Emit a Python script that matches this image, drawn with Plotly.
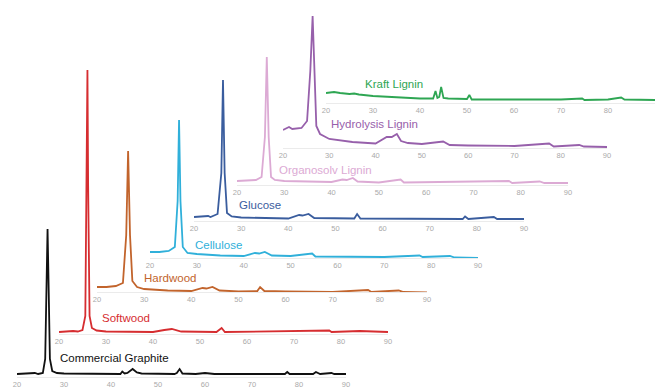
import plotly.graph_objects as go

W, H = 659, 389

# ---------------- data (2-theta in degrees, intensity in a.u.) ----------------
names = ["Commercial Graphite", "Softwood", "Hardwood", "Cellulose", "Glucose",
         "Organosolv Lignin", "Hydrolysis Lignin", "Kraft Lignin"]

tick_vals = [20, 30, 40, 50, 60, 70, 80, 90]

graphite_2t = [20, 23.8, 24.5, 25.5, 26.0, 26.3, 26.5, 26.7, 27.0, 27.5, 28.5, 30, 40, 42.0, 42.4, 42.9, 43.5,
               44.6, 45.5, 46.5, 53.5, 54.0, 54.6, 55.2, 58, 60, 62, 77, 77.5, 78, 83, 83.6, 84.5, 86.9, 87.5, 90]
graphite_i = [5, 6, 5, 6, 20, 100, 150, 100, 20, 8, 6, 5.5, 5, 5, 7.5, 5.5, 6,
              10, 6.5, 5.5, 5, 6, 10, 5.5, 5, 6, 5, 5, 7, 5, 5, 7, 5, 6, 5, 5]

softwood_2t = [20, 23, 24, 25, 25.6, 25.9, 26.05, 26.2, 26.5, 27, 28, 30, 40, 42.4, 44, 46, 53.5, 54.6, 55.3,
               77.5, 78, 84, 90]
softwood_i = [4, 5, 4.5, 6, 20, 150, 266, 150, 20, 8, 5.5, 4.5, 4, 6, 7, 4.5, 4, 8, 4,
              5.5, 4, 5, 4]

hardwood_2t = [20, 22, 24, 25.5, 26.2, 26.6, 27.0, 27.5, 28.5, 30, 35, 40, 42.4, 43.2, 44.5, 46, 50, 54.0,
               54.6, 55.5, 60, 70, 77.5, 78.2, 84, 85, 90]
hardwood_i = [8, 8, 9, 12, 60, 144, 60, 14, 8, 6, 4.5, 4, 7, 6.5, 8, 4.5, 3.5, 4,
              8, 4, 3.5, 3, 5, 3, 4.5, 3, 2.5]

cellulose_2t = [20, 22, 24, 25.3, 25.9, 26.2, 26.5, 27, 28, 30, 35, 40, 42.4, 43.3, 44.5, 46, 50, 54.6, 55.3,
                60, 70, 77.5, 78.2, 84, 85, 90]
cellulose_i = [9, 9, 10, 14, 60, 141, 60, 14, 8, 7, 5.5, 5, 8, 7.5, 9, 5.5, 5, 7.5, 4.5,
               4.5, 4, 5.5, 4, 5, 3.5, 3]

glucose_2t = [20, 23, 23.5, 25, 25.8, 26.15, 26.5, 27, 28, 30, 40, 42.3, 43, 44.3, 45.5, 54, 54.6, 55.3,
              77, 77.5, 78.2, 83.6, 84.3, 90]
glucose_i = [6, 7, 6, 9, 50, 143, 50, 10, 6.5, 5.5, 4.5, 8, 7.5, 9, 5, 4.5, 9, 4.5,
             4, 6.5, 4, 6, 4, 4]

organosolv_2t = [20, 22, 24, 25.2, 25.9, 26.3, 26.7, 27.2, 28, 30, 40, 42.3, 43.2, 44.5, 45.5, 50, 54.6,
                 55.3, 77.5, 78.2, 84, 85, 90]
organosolv_i = [6, 6.5, 7, 10, 50, 130, 50, 10, 7, 6, 5, 7.5, 7, 9, 5.5, 4.5, 7.5,
                4.5, 6, 4, 5.5, 4, 4]

hydrolysis_2t = [20, 21.3, 22, 24, 25.2, 25.9, 26.4, 26.8, 27.2, 28, 30, 35, 38, 40, 42.4, 43.5, 44.6, 45.5,
                 47, 50, 54.6, 56, 60, 70, 77.5, 78.5, 84, 85, 90]
hydrolysis_i = [21, 24, 22, 23, 30, 80, 135, 80, 25, 17, 12, 9, 8, 7.5, 14, 14, 17, 10,
                8, 7, 9.5, 6, 5.5, 5, 7.5, 4.5, 6, 4.5, 4]

kraft_2t = [20, 21.7, 23, 25, 26, 27, 30, 35, 40, 42.8, 43.3, 43.7, 44.1, 44.5, 45.0, 46, 50, 50.5, 51,
            60, 65, 66, 70, 74.5, 75, 80, 82.8, 83.5, 90]
kraft_i = [12, 13, 12, 11, 11.5, 10.5, 9, 7.5, 6.5, 6.5, 14, 7, 8, 18, 7, 6.5, 6, 10, 5.5,
           5.5, 6, 5.5, 5.5, 6.5, 5, 5.5, 7.5, 5.5, 5]

series_x = [graphite_2t, softwood_2t, hardwood_2t, cellulose_2t, glucose_2t,
            organosolv_2t, hydrolysis_2t, kraft_2t]
series_y = [graphite_i, softwood_i, hardwood_i, cellulose_i, glucose_i,
            organosolv_i, hydrolysis_i, kraft_i]

# ---------------- style / layout ----------------
colors = ["#111111", "#d62d30", "#c2642c", "#30b0da", "#3a5d9e", "#dcaad4", "#9760ab", "#2ea653"]
# pixel placement of each stacked panel: x of 20 deg, x of 90 deg, y of axis line, y of zero intensity
x20_px = [17, 59, 97, 150, 194, 237, 283, 326]
x90_px = [346, 388, 427, 478, 524, 568, 607, 655]
axis_px = [377, 334, 292, 258, 221, 185, 148, 103]
zero_px = [379, 336, 295, 261, 223, 187, 151, 105]
label_px = [(58, 358), (100, 318), (142, 278), (193, 245), (237, 205),
            (277, 170), (329, 124), (363, 84)]

fig = go.Figure()
layout = dict(width=W, height=H, margin=dict(l=0, r=0, t=0, b=0, pad=0, autoexpand=False),
              paper_bgcolor="white", plot_bgcolor="rgba(0,0,0,0)", showlegend=False,
              font=dict(family="Liberation Sans, Arial, sans-serif"))
annotations = []
for i in range(len(names)):
    k = "" if i == 0 else str(i + 1)
    fig.add_trace(go.Scatter(x=series_x[i], y=series_y[i], mode="lines",
                             line=dict(color=colors[i], width=1.8),
                             xaxis="x" + k, yaxis="y" + k, name=names[i], cliponaxis=False))
    r0 = zero_px[i] - axis_px[i]
    layout["xaxis" + k] = dict(domain=[x20_px[i] / W, x90_px[i] / W], range=[20, 90],
                               anchor="y" + k, tickvals=tick_vals, ticks="", automargin=False,
                               showline=True, linecolor="#ebebeb", linewidth=1,
                               showgrid=False, zeroline=False,
                               tickfont=dict(size=7.5, color="#aaaaaa"), fixedrange=True)
    layout["yaxis" + k] = dict(domain=[1 - axis_px[i] / H, 1], range=[r0, r0 + axis_px[i]],
                               anchor="x" + k, visible=False, automargin=False, fixedrange=True)
    lx, ly = label_px[i]
    annotations.append(dict(text=names[i], x=lx / W, y=1 - ly / H, xref="paper", yref="paper",
                            xanchor="left", yanchor="middle", showarrow=False,
                            font=dict(size=11.5, color=colors[i])))
layout["annotations"] = annotations
fig.update_layout(**layout)
fig.write_html("out.html", config={"displayModeBar": False},
               post_script="document.body.style.margin='0';document.body.style.padding='0';")
